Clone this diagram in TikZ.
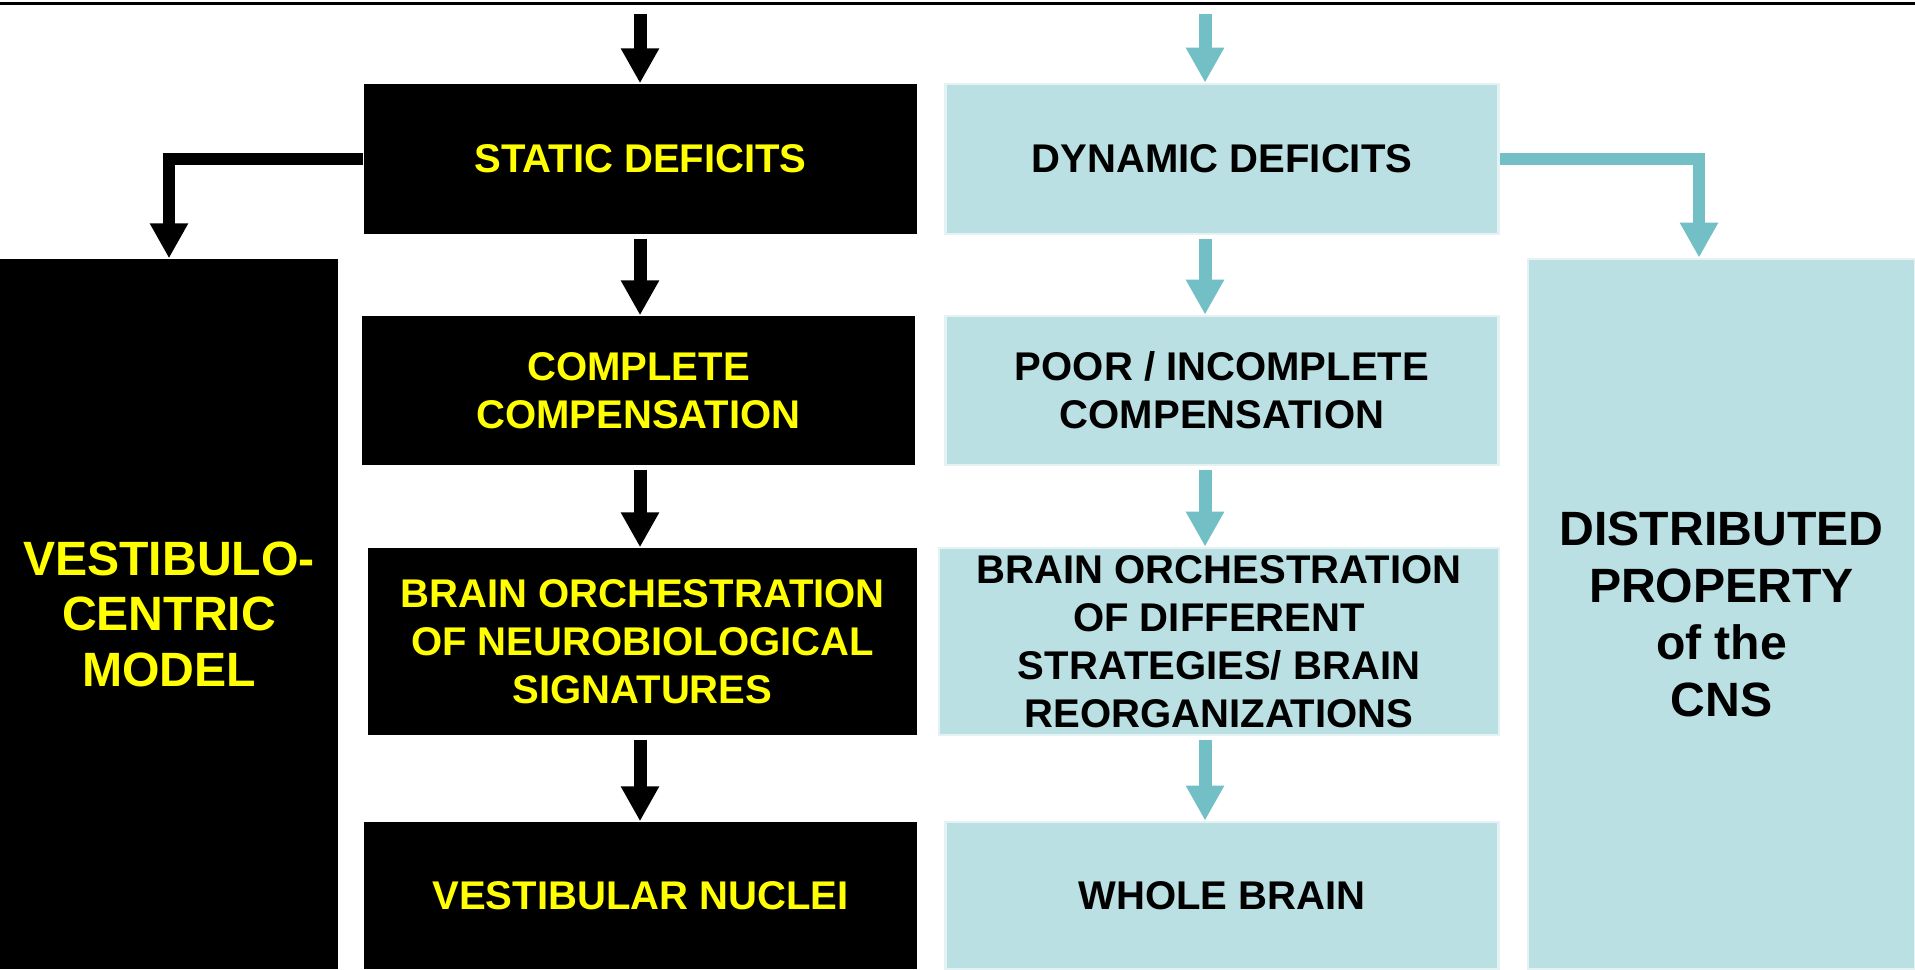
\documentclass[tikz,border=0pt]{standalone}
\usepackage{fontspec}
\setmainfont{Liberation Sans}
\usetikzlibrary{calc,arrows.meta}
\definecolor{boxteal}{HTML}{BBE0E3}
\definecolor{edgeteal}{HTML}{E4F2F3}
\definecolor{arrowteal}{HTML}{72BFC5}
\definecolor{labyellow}{HTML}{FFFF00}
\tikzset{
  blackbox/.style={rectangle,fill=black,text=labyellow,minimum width=5.53cm,minimum height=1.5cm,inner sep=0,
                   align=center,font=\fontsize{11.4}{13.7}\selectfont\bfseries},
  tealbox/.style={blackbox,fill=boxteal,draw=edgeteal,line width=0.8pt,text=black},
  % the two tall boxes on the sides
  sideblack/.style={blackbox,minimum width=3.38cm,minimum height=7.1cm,font=\fontsize{13.7}{15.8}\selectfont\bfseries},
  sideteal/.style={tealbox,minimum width=3.87cm,minimum height=7.1cm,font=\fontsize{13.7}{16.2}\selectfont\bfseries},
  blkarrow/.style={-{Triangle[length=3.5mm,width=3.6mm]},line width=1.3mm,draw=black,shorten <=0.4mm},
  tealarrow/.style={blkarrow,draw=arrowteal},
  frame/.style={line width=0.3mm},
}
\begin{document}
\begin{tikzpicture}
  \useasboundingbox (0,0) rectangle (19.15,-9.69);
  % the edge of the frame above
  \coordinate (frameL) at (0,-0.035);
  \coordinate (frameR) at (19.15,-0.035);
  \draw[frame] (frameL) -- (frameR);
  \coordinate (topL) at (6.40,-0.10);
  \coordinate (topR) at (12.05,-0.10);
  % left column: static deficits
  \node[blackbox] (static) at (6.405,-1.59) {STATIC DEFICITS};
  \node[blackbox,minimum height=1.49cm] (complete) at (6.385,-3.905) {COMPLETE\\COMPENSATION};
  \node[blackbox,minimum width=5.49cm,minimum height=1.87cm] (orchblk) at (6.425,-6.415)
    {BRAIN ORCHESTRATION\\OF NEUROBIOLOGICAL\\SIGNATURES};
  \node[blackbox,minimum height=1.47cm] (vestnuc) at (6.405,-8.955) {VESTIBULAR NUCLEI};
  % right column: dynamic deficits
  \node[tealbox] (dynamic) at (12.22,-1.59) {DYNAMIC DEFICITS};
  \node[tealbox,minimum height=1.49cm] (poor) at (12.22,-3.905) {POOR / INCOMPLETE\\COMPENSATION};
  \node[tealbox,minimum width=5.6cm,minimum height=1.87cm] (orchteal) at (12.19,-6.415)
    {BRAIN ORCHESTRATION\\OF DIFFERENT\\STRATEGIES/ BRAIN\\REORGANIZATIONS};
  \node[tealbox,minimum height=1.47cm] (whole) at (12.22,-8.955) {WHOLE BRAIN};
  % the two models
  \node[sideblack] (vestibulo) at (1.69,-6.14) {VESTIBULO-\\CENTRIC\\MODEL};
  \node[sideteal] (distributed) at (17.215,-6.14) {DISTRIBUTED\\PROPERTY\\of the\\CNS};
  % arrows
  \draw[blkarrow] (topL) -- (topL |- static.north);
  \draw[blkarrow] (topL |- static.south) -- (topL |- complete.north);
  \draw[blkarrow] (topL |- complete.south) -- (topL |- orchblk.north);
  \draw[blkarrow] (topL |- orchblk.south) -- (topL |- vestnuc.north);
  \draw[blkarrow,line width=1.2mm,shorten <=0pt] (static.west) -| (vestibulo.north);
  \draw[tealarrow] (topR) -- (topR |- dynamic.north);
  \draw[tealarrow] (topR |- dynamic.south) -- (topR |- poor.north);
  \draw[tealarrow] (topR |- poor.south) -- (topR |- orchteal.north);
  \draw[tealarrow] (topR |- orchteal.south) -- (topR |- whole.north);
  \draw[tealarrow,line width=1.2mm,shorten <=0pt] (dynamic.east) -| ($(distributed.north)+(-0.225,0)$);
\end{tikzpicture}
\end{document}
